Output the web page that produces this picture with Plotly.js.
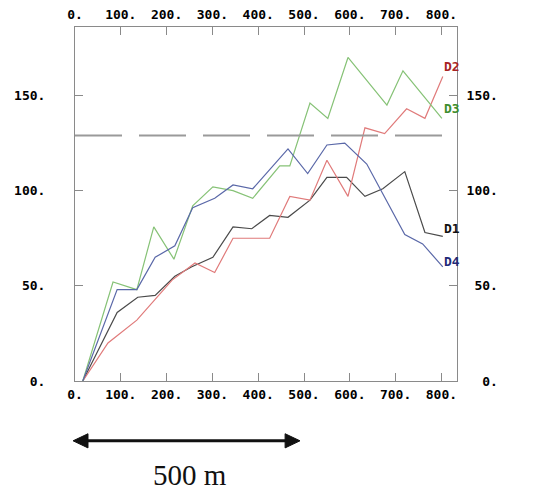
<!DOCTYPE html>
<html>
<head>
<meta charset="utf-8">
<script src="https://cdn.plot.ly/plotly-3.0.1.min.js"></script>
<style>html,body{margin:0;padding:0;background:#fff;}#chart{width:549px;height:494px;}</style>
</head>
<body>
<div id="chart"></div>
<script>
// Data
const d1X = [17, 92, 137, 175, 218, 255, 301, 345, 386, 425, 465, 513, 550, 593, 633, 672, 720, 764, 803];
const d1Y = [0, 36, 44, 45, 55, 60, 65, 81, 80, 87, 86, 95, 107, 107, 97, 101, 110, 78, 76];

const d2X = [17, 72, 135, 212, 262, 305, 345, 425, 469, 513, 550, 596, 633, 676, 724, 764, 803];
const d2Y = [0, 20, 32, 53, 62, 57, 75, 75, 97, 95, 116, 97, 133, 130, 143, 138, 160];

const d3X = [17, 83, 135, 172, 216, 257, 301, 345, 388, 447, 469, 513, 552, 596, 681, 716, 801];
const d3Y = [0, 52, 48, 81, 64, 92, 102, 100, 96, 113, 113, 146, 138, 170, 145, 163, 138];

const d4X = [17, 92, 135, 175, 218, 257, 305, 345, 388, 465, 508, 550, 589, 637, 720, 759, 803];
const d4Y = [0, 48, 48, 65, 71, 91, 96, 103, 101, 122, 109, 124, 125, 114, 77, 72, 60];

const refLevel = 129;

const xTickVals = [0, 100, 200, 300, 400, 500, 600, 700, 800];
const xTickText = ["0.", "100.", "200.", "300.", "400.", "500.", "600.", "700.", "800."];
const yTickVals = [0, 50, 100, 150];
const yTickTextL = ["0.", "50.", "100.", "150."];
const yTickTextR = ["0.", "50.", "100.", "150."].map(s => "\u00a0".repeat(4 - s.length) + s);

const seriesNames = ["D1", "D2", "D3", "D4"];
const lineColors = ["#4a4a4a", "#e07a7a", "#86c276", "#5a68a8"];
const labelColors = ["#111111", "#a82424", "#3e8e2e", "#222a78"];
const labelY = [80, 165, 143, 63];
const labelX = 822;

const xRange = [0, 834];
const yRange = [0, 186];

const tickFont = {family: "DejaVu Sans Mono", size: 13, color: "#000", weight: "bold"};

const xs = [d1X, d2X, d3X, d4X];
const ys = [d1Y, d2Y, d3Y, d4Y];

const traces = seriesNames.map((n, i) => ({
  type: "scatter", mode: "lines", name: n, x: xs[i], y: ys[i],
  line: {color: lineColors[i], width: 1.2}, hoverinfo: "skip"
}));
// reference dashed level across the plot
traces.push({
  type: "scatter", mode: "lines", x: xRange, y: [refLevel, refLevel],
  line: {color: "#9a9a9a", width: 2, dash: "47px,17px"}, hoverinfo: "skip"
});
// companion trace for top/right axes
traces.push({
  type: "scatter", mode: "lines", x: xRange, y: [refLevel, refLevel], xaxis: "x2", yaxis: "y2",
  line: {color: "rgba(0,0,0,0)", width: 0}, hoverinfo: "skip"
});

const annotations = seriesNames.map((n, i) => ({
  x: labelX, y: labelY[i], xref: "x", yref: "y", text: "<b>" + n + "</b>",
  showarrow: false, font: {family: "DejaVu Sans Mono", size: 13, color: labelColors[i]},
  xanchor: "center", yanchor: "middle"
}));
annotations.push({
  x: 0.302, y: -0.266, xref: "paper", yref: "paper", text: "500 m", showarrow: false,
  font: {family: "Liberation Serif", size: 29, color: "#111"}, xanchor: "center", yanchor: "middle"
});

const axisCommon = {
  range: xRange, showgrid: false, zeroline: false, showline: true, linecolor: "#8a8a8a", linewidth: 1,
  ticks: "inside", ticklen: 8, tickcolor: "#8a8a8a", tickfont: tickFont, fixedrange: true
};

const layout = {
  width: 549, height: 494,
  margin: {l: 75, r: 92, t: 27, b: 113},
  paper_bgcolor: "#ffffff", plot_bgcolor: "#ffffff",
  showlegend: false,
  xaxis: Object.assign({}, axisCommon, {tickvals: xTickVals, ticktext: xTickText, mirror: true, ticklabelstandoff: 1}),
  xaxis2: Object.assign({}, axisCommon, {tickvals: xTickVals, ticktext: xTickText, overlaying: "x", side: "top", anchor: "y2", ticklabelstandoff: 2}),
  yaxis: Object.assign({}, axisCommon, {range: yRange, tickvals: yTickVals, ticktext: yTickTextL, mirror: true, ticklabelstandoff: 26}),
  yaxis2: Object.assign({}, axisCommon, {range: yRange, tickvals: yTickVals, ticktext: yTickTextR, overlaying: "y", side: "right", anchor: "x2", ticklabelstandoff: 6}),
  annotations: annotations,
  shapes: [
    {type: "line", xref: "paper", yref: "paper", x0: 0.02, x1: 0.565, y0: -0.169, y1: -0.169, line: {color: "#111", width: 3}},
    {type: "path", xref: "paper", yref: "paper", path: "M -0.005 -0.169 L 0.034 -0.149 L 0.034 -0.189 Z", fillcolor: "#111", line: {color: "#111", width: 1}},
    {type: "path", xref: "paper", yref: "paper", path: "M 0.589 -0.169 L 0.55 -0.149 L 0.55 -0.189 Z", fillcolor: "#111", line: {color: "#111", width: 1}}
  ]
};

Plotly.newPlot("chart", traces, layout, {staticPlot: true, displayModeBar: false});
</script>
</body>
</html>
